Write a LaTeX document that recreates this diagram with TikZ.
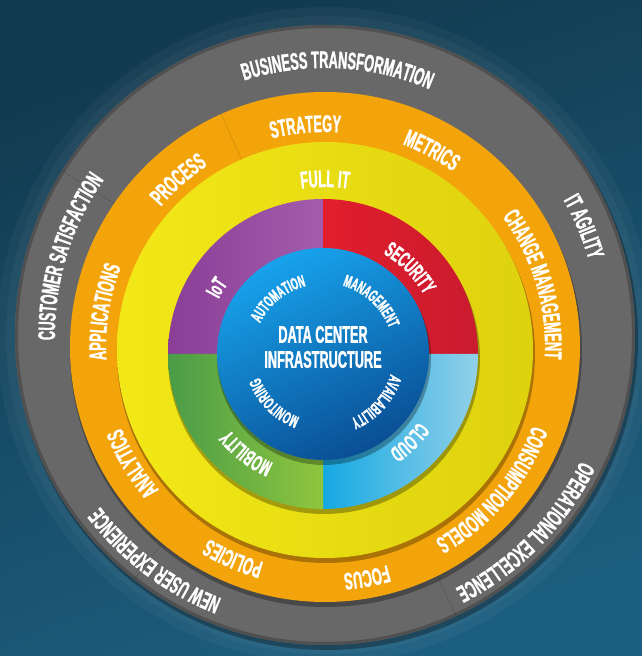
\documentclass[tikz,border=0pt]{standalone}
\usepackage{fontspec}
\newfontfamily\cf[FakeStretch=0.53,FakeBold=1.2]{Liberation Sans}
\usetikzlibrary{decorations.text}
\definecolor{bgA}{HTML}{123A4F}
\definecolor{bgB}{HTML}{1C5E7F}
\definecolor{greyR}{HTML}{686868}
\definecolor{greyD}{HTML}{505050}
\definecolor{orangeR}{HTML}{F4A40B}
\definecolor{yellowA}{HTML}{F3E817}
\definecolor{yellowB}{HTML}{DDD20E}
\definecolor{purpleA}{HTML}{8A3E97}
\definecolor{purpleB}{HTML}{A35DAB}
\definecolor{redA}{HTML}{E21E2C}
\definecolor{redB}{HTML}{C91B2F}
\definecolor{cloudA}{HTML}{15A9E2}
\definecolor{cloudB}{HTML}{92D0E9}
\definecolor{greenA}{HTML}{4A9C48}
\definecolor{greenB}{HTML}{8FC63E}
\definecolor{blueA}{HTML}{17A3EC}
\definecolor{blueB}{HTML}{0A4E94}
\newcommand\ringtext[5]{%
  \path[decorate,decoration={text along path,text align=center,text color=white,
    text={|\cf\bfseries\fontsize{#4}{#4}\selectfont|#5}}]
    (#1) ++({#3+60}:#2pt) arc[start angle={#3+60},end angle={#3-60},radius=#2pt];}
\tikzset{
  shadowring/.style={black,opacity=.3},
  facet/.style={black,opacity=.1,line width=1pt},
}
\begin{document}
\begin{tikzpicture}[x=1pt,y=1pt]
\useasboundingbox (0,0) rectangle (641,656);
\shade[top color=bgA,bottom color=bgB,shading angle=20] (-5,-5) rectangle (646,661);
\coordinate (G) at (325,321);
\coordinate (O) at (325,309);
\coordinate (Y) at (325,306);
\coordinate (C) at (323,302);
% halo
\fill[white,opacity=.035] (G) circle[radius=328pt];
\fill[white,opacity=.035] (G) circle[radius=319pt];
% grey ring
\fill[shadowring] ([xshift=2pt,yshift=-4pt]G) circle[radius=311pt];
\fill[greyR] (G) circle[radius=310pt];
\draw[greyD,line width=3pt] (G) circle[radius=308.5pt];
\draw[facet] (G) -- ++(148:309pt);
\draw[facet] (G) -- ++(-65:309pt);
\draw[facet] (G) -- ++(-128:309pt);
% orange ring
\fill[shadowring] ([xshift=1pt,yshift=-4pt]O) circle[radius=256pt];
\fill[orangeR] (O) circle[radius=255pt];
\draw[facet] (O) -- ++(114:255pt);
% yellow
\fill[shadowring] ([xshift=1pt,yshift=-4pt]Y) circle[radius=209pt];
\shade[left color=yellowA,right color=yellowB] (Y) circle[radius=208pt];
% coloured quadrants
\fill[shadowring] ([xshift=1pt,yshift=-4pt]C) circle[radius=156pt];
\shade[left color=purpleA,right color=purpleB] (C) -- ++(90:155pt) arc[start angle=90,end angle=180,radius=155pt] -- cycle;
\shade[left color=redA,right color=redB] (C) -- ++(0:155pt) arc[start angle=0,end angle=90,radius=155pt] -- cycle;
\shade[left color=cloudA,right color=cloudB] (C) -- ++(-90:155pt) arc[start angle=-90,end angle=0,radius=155pt] -- cycle;
\shade[left color=greenA,right color=greenB] (C) -- ++(180:155pt) arc[start angle=180,end angle=270,radius=155pt] -- cycle;
% blue core
\fill[shadowring] ([xshift=1pt,yshift=-4pt]C) circle[radius=107pt];
\shade[top color=blueA,bottom color=blueB,shading angle=25] (C) circle[radius=106pt];
% grey texts
\ringtext{G}{267}{87.3}{24}{BUSINESS TRANSFORMATION}
\ringtext{G}{270}{163}{24}{CUSTOMER SATISFACTION}
\ringtext{G}{274}{22.7}{24}{IT AGILITY}
\ringtext{G}{285}{-44.5}{24}{OPERATIONAL  EXCELLENCE}
\ringtext{G}{283}{-127}{24}{NEW USER EXPERIENCE}
% orange texts
\ringtext{O}{216}{131.2}{24}{PROCESS}
\ringtext{O}{215}{95.1}{24}{STRATEGY}
\ringtext{O}{217}{61.5}{24}{METRICS}
\ringtext{O}{220}{16.6}{24}{CHANGE MANAGEMENT}
\ringtext{O}{222}{-40.5}{24}{CONSUMPTION MODELS}
\ringtext{O}{227}{-79.7}{24}{FOCUS}
\ringtext{O}{224}{-113.5}{24}{POLICIES}
\ringtext{O}{219}{-148.8}{24}{ANALYTICS}
\ringtext{O}{219}{171}{24}{APPLICATIONS}
% yellow text
\ringtext{Y}{163}{90}{24}{FULL IT}
% quadrant texts
\ringtext{C}{118}{148}{22}{IoT}
\ringtext{C}{117}{44.7}{22}{SECURITY}
\ringtext{C}{117}{-45.6}{22}{CLOUD}
\ringtext{C}{120}{-127.7}{22}{MOBILITY}
% core texts
\ringtext{C}{70}{129}{17}{AUTOMATION}
\ringtext{C}{71}{47.6}{17}{MANAGEMENT}
\ringtext{C}{70.5}{-41.8}{17}{AVAILABILITY}
\ringtext{C}{67.5}{-135}{17}{MONITORING}
\node[align=center,text=white,inner sep=0pt,font=\cf\bfseries\fontsize{24}{25}\selectfont] (dc) at (323,309) {DATA CENTER\\INFRASTRUCTURE};
\end{tikzpicture}
\end{document}
